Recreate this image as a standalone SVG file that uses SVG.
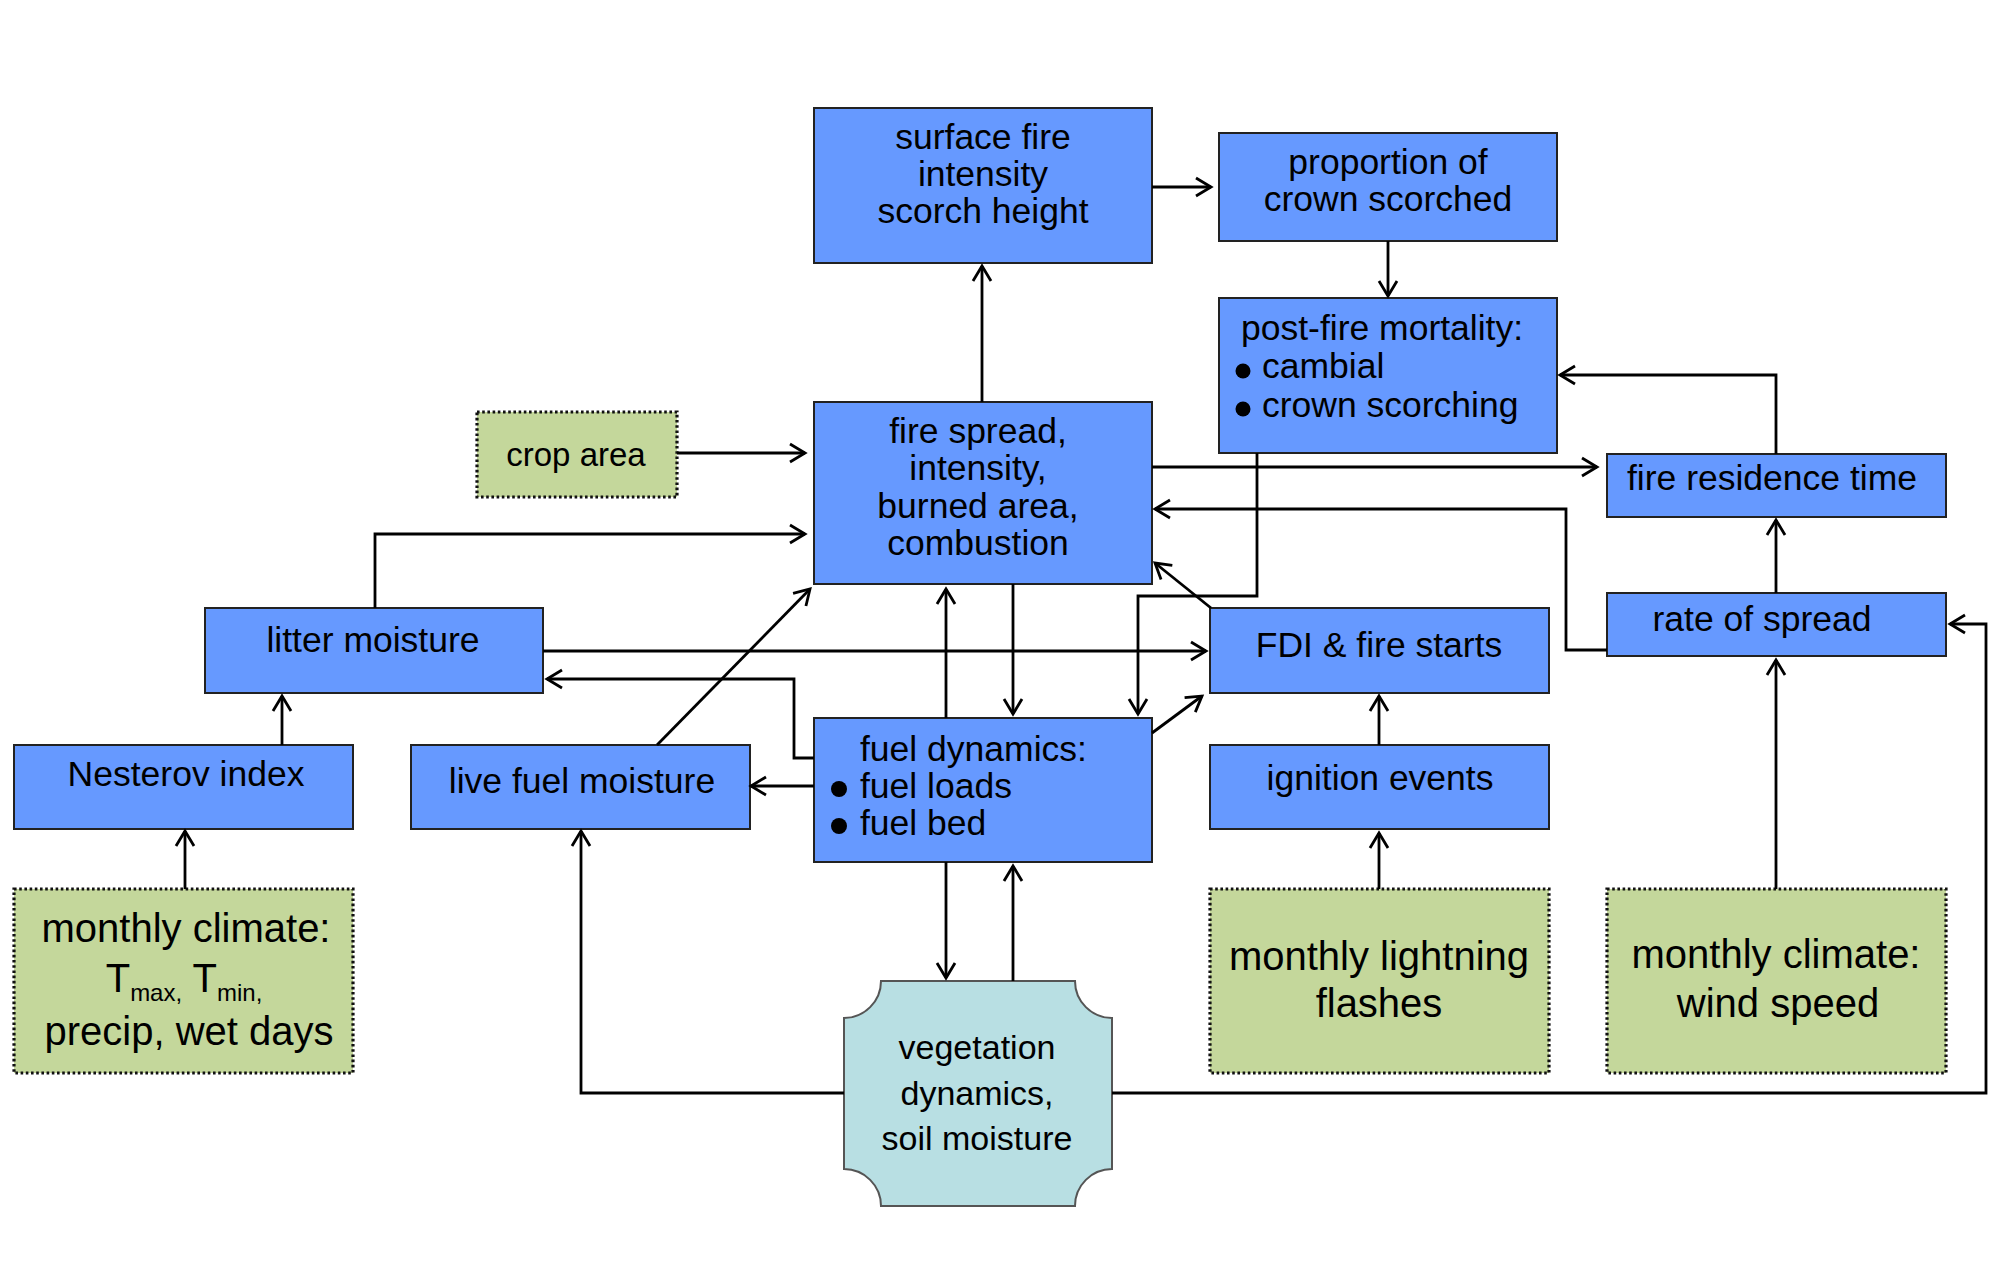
<svg xmlns="http://www.w3.org/2000/svg" width="1996" height="1267" viewBox="0 0 1996 1267">
<defs>
<marker id="arr" markerUnits="userSpaceOnUse" markerWidth="30" markerHeight="30" refX="0" refY="0" viewBox="-20 -15 25 30" orient="auto" overflow="visible">
<path d="M-15,-9 L0,0 L-15,9" fill="none" stroke="#000" stroke-width="2.8" stroke-linejoin="miter"/>
</marker>
</defs>
<style>
.b{fill:#6699FF;stroke:#222;stroke-width:2}
.g{fill:#C4D79B;stroke:#111;stroke-width:3.2;stroke-dasharray:2.6 2.6}
.v{fill:#B8DFE3;stroke:#555;stroke-width:2}
.t{font-family:"Liberation Sans",Arial,sans-serif;font-size:35.5px;fill:#000}
.m{text-anchor:middle}
.gt{font-family:"Liberation Sans",Arial,sans-serif;font-size:40px;fill:#000;text-anchor:middle}
.c{fill:none;stroke:#000;stroke-width:2.8;marker-end:url(#arr)}
</style>
<rect width="1996" height="1267" fill="#fff"/>

<g id="surface-fire">
<rect class="b" x="814" y="108" width="338" height="155"/>
<text class="t m" x="983" y="149">surface fire</text>
<text class="t m" x="983" y="186">intensity</text>
<text class="t m" x="983" y="223">scorch height</text>
</g>

<g id="proportion-crown">
<rect class="b" x="1219" y="133" width="338" height="108"/>
<text class="t m" x="1388" y="174">proportion of</text>
<text class="t m" x="1388" y="211">crown scorched</text>
</g>

<g id="post-fire-mortality">
<rect class="b" x="1219" y="298" width="338" height="155"/>
<text class="t" x="1241" y="340">post-fire mortality:</text>
<circle cx="1243" cy="371" r="7.5" fill="#000"/>
<text class="t" x="1262" y="378">cambial</text>
<circle cx="1243" cy="409" r="7.5" fill="#000"/>
<text class="t" x="1262" y="417">crown scorching</text>
</g>

<g id="crop-area">
<rect class="g" x="477" y="412" width="200" height="85"/>
<text class="gt" x="576" y="466" style="font-size:33px">crop area</text>
</g>

<g id="fire-spread">
<rect class="b" x="814" y="402" width="338" height="182"/>
<text class="t m" x="978" y="443">fire spread,</text>
<text class="t m" x="978" y="480">intensity,</text>
<text class="t m" x="978" y="518">burned area,</text>
<text class="t m" x="978" y="555">combustion</text>
</g>

<g id="fire-residence-time">
<rect class="b" x="1607" y="454" width="339" height="63"/>
<text class="t m" x="1772" y="490">fire residence time</text>
</g>

<g id="litter-moisture">
<rect class="b" x="205" y="608" width="338" height="85"/>
<text class="t m" x="373" y="652">litter moisture</text>
</g>

<g id="fdi-fire-starts">
<rect class="b" x="1210" y="608" width="339" height="85"/>
<text class="t m" x="1379" y="657">FDI &amp; fire starts</text>
</g>

<g id="rate-of-spread">
<rect class="b" x="1607" y="593" width="339" height="63"/>
<text class="t m" x="1762" y="631">rate of spread</text>
</g>

<g id="nesterov-index">
<rect class="b" x="14" y="745" width="339" height="84"/>
<text class="t m" x="186" y="786">Nesterov index</text>
</g>

<g id="live-fuel-moisture">
<rect class="b" x="411" y="745" width="339" height="84"/>
<text class="t m" x="582" y="793">live fuel moisture</text>
</g>

<g id="fuel-dynamics">
<rect class="b" x="814" y="718" width="338" height="144"/>
<text class="t" x="860" y="761">fuel dynamics:</text>
<circle cx="839" cy="789" r="8" fill="#000"/>
<text class="t" x="860" y="798">fuel loads</text>
<circle cx="839" cy="826" r="8" fill="#000"/>
<text class="t" x="860" y="835">fuel bed</text>
</g>

<g id="ignition-events">
<rect class="b" x="1210" y="745" width="339" height="84"/>
<text class="t m" x="1380" y="790">ignition events</text>
</g>

<g id="monthly-climate-temp">
<rect class="g" x="14" y="889" width="339" height="184"/>
<text class="gt" x="186" y="942">monthly climate:</text>
<text class="gt" x="184" y="992">T<tspan dy="9" style="font-size:24px">max,</tspan><tspan dy="-9"> T</tspan><tspan dy="9" style="font-size:24px">min,</tspan></text>
<text class="gt" x="189" y="1045">precip, wet days</text>
</g>

<g id="vegetation-dynamics">
<path class="v" d="M881,981 H1075 A37,37 0 0 0 1112,1018 V1169 A37,37 0 0 0 1075,1206 H881 A37,37 0 0 0 844,1169 V1018 A37,37 0 0 0 881,981 Z"/>
<text class="gt" x="977" y="1059" style="font-size:34px">vegetation</text>
<text class="gt" x="977" y="1105" style="font-size:34px">dynamics,</text>
<text class="gt" x="977" y="1150" style="font-size:34px">soil moisture</text>
</g>

<g id="monthly-lightning">
<rect class="g" x="1210" y="889" width="339" height="184"/>
<text class="gt" x="1379" y="970">monthly lightning</text>
<text class="gt" x="1379" y="1017">flashes</text>
</g>

<g id="monthly-climate-wind">
<rect class="g" x="1607" y="889" width="339" height="184"/>
<text class="gt" x="1776" y="968">monthly climate:</text>
<text class="gt" x="1778" y="1017">wind speed</text>
</g>

<g id="connectors">
<path class="c" d="M1152,187 H1211"/>
<path class="c" d="M1388,241 V296"/>
<path class="c" d="M982,402 V266"/>
<path class="c" d="M677,453 H805"/>
<path class="c" d="M375,608 V534 H805"/>
<path class="c" d="M1152,467 H1597"/>
<path class="c" d="M1607,650 H1566 V509 H1155"/>
<path class="c" d="M1776,454 V375 H1560"/>
<path class="c" d="M1776,593 V520"/>
<path class="c" d="M1257,453 V596 H1138 V714"/>
<path class="c" d="M1211,608 L1155,563"/>
<path class="c" d="M543,651 H1206"/>
<path class="c" d="M814,758 H794 V679 H547"/>
<path class="c" d="M657,745 L810,589"/>
<path class="c" d="M946,718 V589"/>
<path class="c" d="M1013,584 V714"/>
<path class="c" d="M1152,733 L1202,696"/>
<path class="c" d="M814,786 H751"/>
<path class="c" d="M1379,745 V696"/>
<path class="c" d="M1379,889 V833"/>
<path class="c" d="M282,745 V696"/>
<path class="c" d="M185,889 V831"/>
<path class="c" d="M1776,889 V660"/>
<path class="c" d="M946,862 V978"/>
<path class="c" d="M1013,981 V866"/>
<path class="c" d="M844,1093 H581 V831"/>
<path class="c" d="M1112,1093 H1986 V624 H1950"/>
</g>
</svg>
